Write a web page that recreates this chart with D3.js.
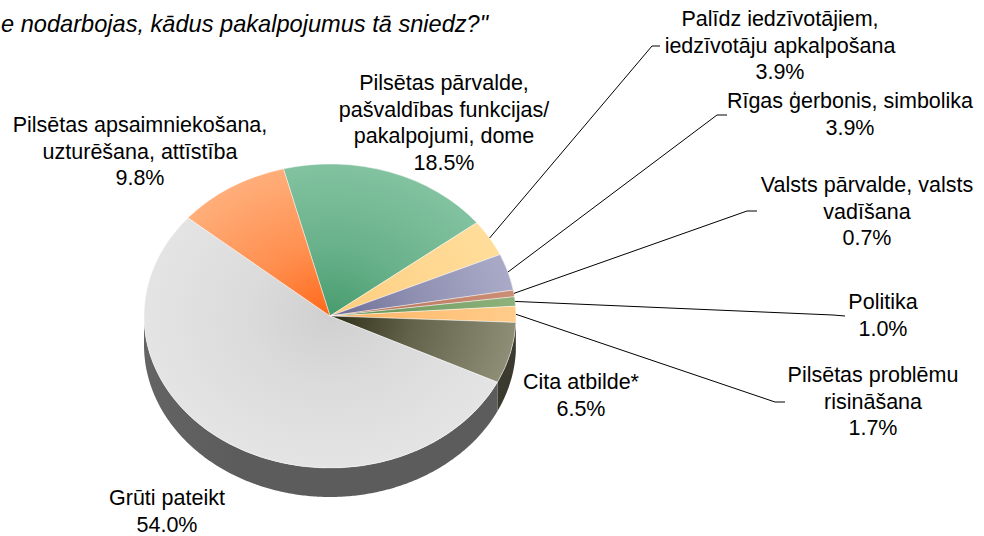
<!DOCTYPE html>
<html><head><meta charset="utf-8">
<script src="https://cdn.jsdelivr.net/npm/d3@7"></script>
<style>body{margin:0;background:#fff}svg{display:block}</style>
</head><body>
<svg id="chart" width="984" height="536"></svg>
<script>
// ---- data ----
const titleText = "e nodarbojas, kādus pakalpojumus tā sniedz?\"";
const categories = [
  ["Pilsētas pārvalde,", "pašvaldības funkcijas/", "pakalpojumi, dome"],
  ["Palīdz iedzīvotājiem,", "iedzīvotāju apkalpošana"],
  ["Rīgas ģerbonis, simbolika"],
  ["Valsts pārvalde, valsts", "vadīšana"],
  ["Politika"],
  ["Pilsētas problēmu", "risināšana"],
  ["Cita atbilde*"],
  ["Grūti pateikt"],
  ["Pilsētas apsaimniekošana,", "uzturēšana, attīstība"]
];
const values = [18.5, 3.9, 3.9, 0.7, 1.0, 1.7, 6.5, 54.0, 9.8];
const valueLabels = ["18.5%", "3.9%", "3.9%", "0.7%", "1.0%", "1.7%", "6.5%", "54.0%", "9.8%"];

// ---- styles / layout ----
const topColors = [  // [center, rim]
  ["#489c6e", "#82c2a0"],
  ["#ffcc7c", "#ffdd9a"],
  ["#6c6c94", "#aaaac8"],
  ["#b06a50", "#cc8e76"],
  ["#5a8a4a", "#8eb27c"],
  ["#ffae5c", "#ffcc8a"],
  ["#2e2e18", "#8e8e76"],
  ["#d0d0d0", "#e4e4e4"],
  ["#ff681a", "#ffae7a"]
];
const sideColors = [
  ["#3a6e50","#4a8a64"], ["#b09050","#c8a468"], ["#50506c","#6a6a88"], ["#804c38","#905a44"],
  ["#46683a","#567a48"], ["#c08040","#d09050"], ["#3c3c30","#3a3a2e"], ["#646464","#5c5c5c"], ["#c05010","#d06020"]
];
// label layout: center x, first baseline, leader polyline end points (elbow, end)
const labelLayout = [
  {x: 444, y: 90},
  {x: 780, y: 26, elbow: [652, 46], end: [660, 46]},
  {x: 850, y: 108, elbow: [717, 115], end: [727, 115]},
  {x: 867, y: 192, elbow: [747, 211], end: [757, 211]},
  {x: 883, y: 309, elbow: [833, 315], end: [845, 316]},
  {x: 873, y: 382, elbow: [775, 402], end: [785, 402]},
  {x: 581, y: 389},
  {x: 167, y: 505},
  {x: 140, y: 132}
];
const cx = 330, cy = 316, rx = 186, ry = 152, depth = 29;
const startDeg = -14.5;
const lineH = 26.5;
const font = "'Liberation Sans', Arial, sans-serif";

const svg = d3.select("#chart");
const defs = svg.append("defs");

const pie = d3.pie().sort(null).value(d => d)
  .startAngle(startDeg * Math.PI / 180)
  .endAngle(startDeg * Math.PI / 180 + 2 * Math.PI);
const arcs = pie(values);

// gradients
arcs.forEach((a, i) => {
  const g = defs.append("radialGradient").attr("id", "tg" + i)
    .attr("gradientUnits", "userSpaceOnUse").attr("cx", 0).attr("cy", 0).attr("r", rx);
  const c0 = d3.color(topColors[i][0]), c1 = d3.color(topColors[i][1]);
  g.append("stop").attr("offset", "0%").attr("stop-color", c0);
  g.append("stop").attr("offset", "45%").attr("stop-color", d3.interpolateRgb(c0, c1)(0.55));
  g.append("stop").attr("offset", "100%").attr("stop-color", c1);
  const s = defs.append("linearGradient").attr("id", "sg" + i)
    .attr("gradientUnits", "userSpaceOnUse").attr("x1", cx - rx).attr("x2", cx + rx).attr("y1", 0).attr("y2", 0);
  s.append("stop").attr("offset", "0%").attr("stop-color", sideColors[i][0]);
  s.append("stop").attr("offset", "25%").attr("stop-color", sideColors[i][1]);
  s.append("stop").attr("offset", "100%").attr("stop-color", sideColors[i][1]);
});

const ex = a => cx + rx * Math.sin(a);
const ey = a => cy - ry * Math.cos(a);

// sides (front half: angles between PI/2 and 3PI/2)
const sideG = svg.append("g");
const lineGen = d3.line();
arcs.forEach((a, i) => {
  for (const off of [0, 2 * Math.PI, -2 * Math.PI]) {
    const a1 = Math.max(a.startAngle + off, Math.PI / 2);
    const a2 = Math.min(a.endAngle + off, 3 * Math.PI / 2);
    if (a2 <= a1) continue;
    const n = Math.max(2, Math.ceil((a2 - a1) / 0.01));
    const ts = d3.range(n + 1).map(k => a1 + (a2 - a1) * k / n);
    const pts = ts.map(t => [ex(t), ey(t)]).concat(ts.slice().reverse().map(t => [ex(t), ey(t) + depth]));
    sideG.append("path").attr("d", lineGen(pts) + "Z").attr("fill", `url(#sg${i})`);
  }
});

// top faces
const arcGen = d3.arc().innerRadius(0).outerRadius(rx);
const topG = svg.append("g").attr("transform", `translate(${cx},${cy}) scale(1,${ry / rx})`);
topG.selectAll("path").data(arcs).join("path")
  .attr("d", arcGen)
  .attr("fill", (d, i) => `url(#tg${i})`)
  .attr("stroke", "rgba(255,255,255,0.55)")
  .attr("stroke-width", 0.8)
  .attr("vector-effect", "non-scaling-stroke");

// leader lines
arcs.forEach((a, i) => {
  const L = labelLayout[i];
  if (!L.elbow) return;
  const m = (a.startAngle + a.endAngle) / 2;
  svg.append("path")
    .attr("d", lineGen([[ex(m), ey(m)], L.elbow, L.end]))
    .attr("fill", "none").attr("stroke", "#000").attr("stroke-width", 1);
});

// labels
arcs.forEach((a, i) => {
  const L = labelLayout[i];
  const lines = categories[i].concat([valueLabels[i]]);
  const t = svg.append("text").attr("text-anchor", "middle")
    .attr("font-family", font).attr("font-size", 21.5).attr("fill", "#000");
  lines.forEach((s, k) => t.append("tspan").attr("x", L.x).attr("y", L.y + k * lineH).text(s));
});

// title (visible portion, as in the original)
svg.append("text").attr("x", 1).attr("y", 32).attr("text-anchor", "start")
  .attr("font-family", font).attr("font-size", 23.6).attr("font-style", "italic")
  .attr("fill", "#000").text(titleText);
</script>
</body></html>
